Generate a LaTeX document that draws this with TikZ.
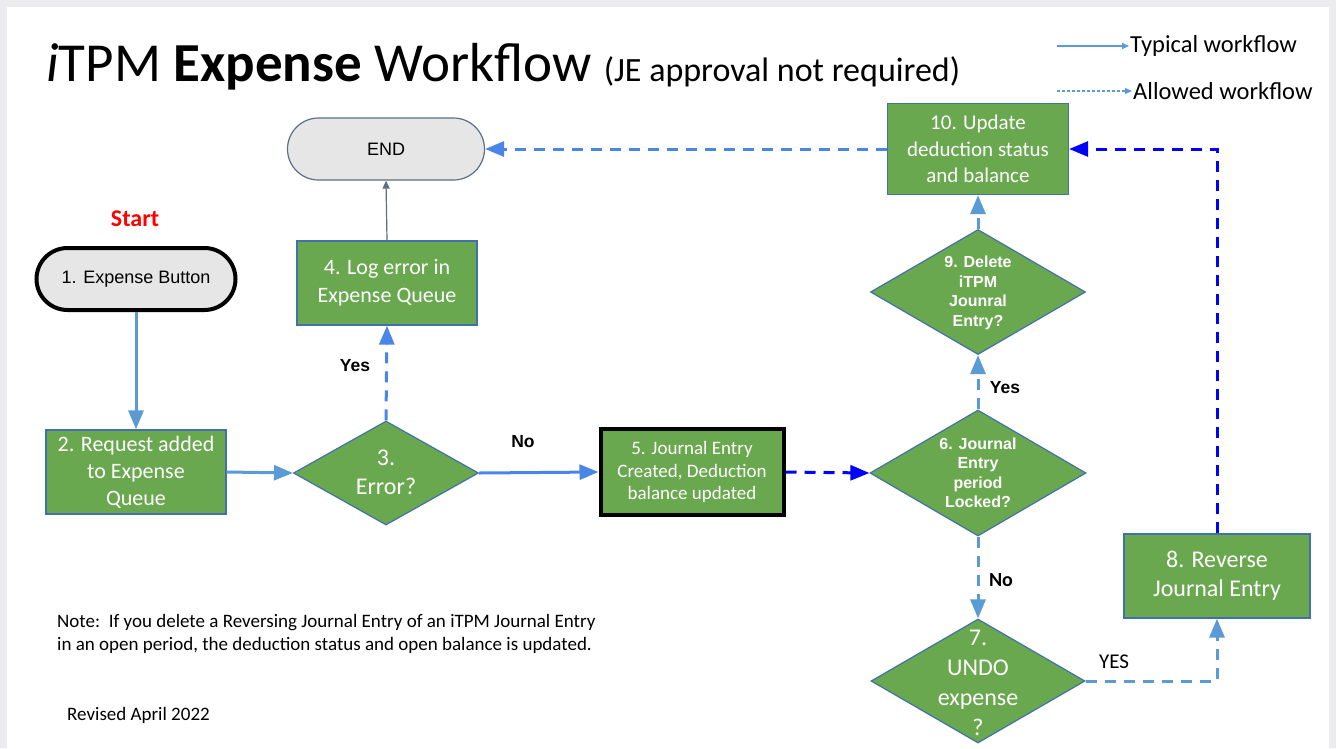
\documentclass[tikz,border=0pt]{standalone}
\usepackage{fontspec}
\setmainfont{Carlito}
\newfontfamily\arialfont{Liberation Sans}
\usetikzlibrary{positioning,arrows.meta,shapes.geometric}
\definecolor{verde}{RGB}{106,168,79}
\definecolor{bordeazul}{RGB}{65,113,170}
\definecolor{celeste}{RGB}{91,155,213}
\definecolor{azulmedio}{RGB}{74,134,232}
\definecolor{azulpuro}{RGB}{0,0,255}
\definecolor{grisflecha}{RGB}{95,110,130}
\definecolor{grisrelleno}{RGB}{230,230,230}
\definecolor{marco}{RGB}{236,236,238}
\newcommand{\tam}[2]{\fontsize{#1}{#2}\selectfont}
\tikzset{
  caja/.style={draw=bordeazul, fill=verde, text=white, align=center, line width=1.3pt, inner sep=0pt},
  rombo/.style={diamond, draw=bordeazul, fill=verde, line width=1.2pt, inner sep=0pt},
  rombotxt/.style={text=white, align=center, inner sep=0pt},
  pildora/.style={fill=grisrelleno, rounded corners=31pt, minimum height=62pt, font=\arialfont\tam{18}{22}},
  flecha/.style={-{Triangle[length=19pt,width=15pt]}},
  discontinua/.style={dash pattern=on 11pt off 8pt},
  etiqueta/.style={font=\arialfont\bfseries\tam{17.5}{20}}
}

\begin{document}
\begin{tikzpicture}[x=1pt, y=-1pt]
  \useasboundingbox (0,0) rectangle (1336,748);
  \fill[marco] (0,0) rectangle (1336,748);
  \fill[white] (7,7) rectangle (1329,748);
  % titulo y leyenda
  \node[anchor=base west, inner sep=0pt, font=\tam{55}{62}] (titulo) at (46,81)
    {\textit{i}TPM \textbf{Expense} Workflow \tam{34}{40}(JE approval not required)};
  \coordinate (tipico0) at (1057,46);
  \coordinate (permitido0) at (1057,91);
  \node[anchor=west, inner sep=1pt, font=\tam{24.5}{28}] (tipico) at (1129,46) {Typical workflow};
  \node[anchor=west, inner sep=1pt, font=\tam{24.5}{28}] (permitido) at (1132,91) {Allowed workflow};
  \draw[celeste, line width=1.5pt, -{Triangle[length=7pt,width=6pt]}] (tipico0) -- (tipico.west);
  \draw[celeste, line width=1.2pt, dash pattern=on 3pt off 2pt, -{Triangle[length=7pt,width=6pt]}] (permitido0) -- (permitido.west);
  % nodos
  \node[font=\bfseries\tam{24}{28}, text=red] (inicio) at (135,219) {Start};
  \node[pildora, draw=black, line width=4pt, minimum width=199pt] (boton) at (136,279) {1. Expense Button};
  \node[pildora, draw=grisflecha, line width=1.2pt, minimum width=197pt] (fin) at (386,149) {END};
  \node[caja, minimum width=180pt, minimum height=84pt, font=\tam{22}{27}] (cola) at (136,472) {2. Request added\\to Expense\\Queue};
  \node[rombo, minimum width=185pt, minimum height=104pt] (error) at (386,473) {};
  \node[rombotxt, font=\tam{24}{29}] (errortxt) at (386,472) {3.\\Error?};
  \node[caja, minimum width=180pt, minimum height=84pt, font=\tam{22}{28}] (registro) at (387,283) {4. Log error in\\Expense Queue};
  \node[caja, draw=black, line width=4pt, minimum width=183pt, minimum height=86pt, font=\tam{19}{22.5}] (asiento) at (692,472) {5. Journal Entry\\Created, Deduction\\balance updated};
  \node[rombo, minimum width=216pt, minimum height=126pt] (bloqueo) at (978,473) {};
  \node[rombotxt, font=\arialfont\bfseries\tam{16}{19.5}] (bloqueotxt) at (978,473) {6. Journal\\Entry\\period\\Locked?};
  \node[rombo, minimum width=215pt, minimum height=125pt] (borrar) at (978,292) {};
  \node[rombotxt, font=\arialfont\bfseries\tam{16}{19.5}] (borrartxt) at (978,293) {9. Delete\\iTPM\\Jounral\\Entry?};
  \node[caja, minimum width=181pt, minimum height=91pt, font=\tam{21}{26.5}] (actualizar) at (978,149) {10. Update\\deduction status\\and balance};
  \node[rombo, minimum width=214pt, minimum height=124pt] (deshacer) at (978,681) {};
  \node[rombotxt, font=\tam{24}{30}] (deshacertxt) at (978,683) {7.\\UNDO\\expense\\?};
  \node[caja, minimum width=186pt, minimum height=84pt, font=\tam{24}{29}] (revertir) at (1217,576) {8. Reverse\\Journal Entry};
  % etiquetas
  \node[etiqueta] (si1) at (355,366) {Yes};
  \node[etiqueta] (no1) at (523,442) {No};
  \node[etiqueta] (si2) at (1005,388) {Yes};
  \node[font=\bfseries\tam{20}{24}] (no2) at (1001,580) {No};
  \node[font=\tam{21}{24}] (si3) at (1114,662) {YES};
  % notas
  \node[anchor=north west, align=left, inner sep=0pt, font=\tam{19}{23}] (nota) at (57,614)
    {Note:\ \ If you delete a Reversing Journal Entry of an iTPM Journal Entry\\in an open period, the deduction status and open balance is updated.};
  \node[anchor=west, inner sep=0pt, font=\tam{19}{22}] (revision) at (67,715) {Revised April 2022};
  % conectores
  \draw[flecha, celeste, line width=3pt] (boton.south) -- (cola.north);
  \draw[flecha, celeste, line width=3pt] (cola.east) -- (error.west);
  \draw[flecha, azulmedio, discontinua, line width=3pt] (error.north) -- (registro.south);
  \draw[grisflecha, line width=1.2pt, -{Triangle[length=8pt,width=7pt]}] (registro.north) -- (fin.south);
  \draw[flecha, azulmedio, line width=3pt] (error.east) -- (asiento.west);
  \draw[flecha, azulpuro, discontinua, line width=3pt] (asiento.east) -- (bloqueo.west);
  \draw[flecha, celeste, discontinua, line width=3pt] (bloqueo.north) -- (borrar.south);
  \draw[flecha, celeste, discontinua, line width=3pt] (borrar.north) -- (actualizar.south);
  \draw[flecha, azulmedio, discontinua, line width=3pt] (actualizar.west) -- (fin.east);
  \draw[flecha, celeste, discontinua, line width=3pt] (bloqueo.south) -- (deshacer.north);
  \draw[flecha, celeste, discontinua, line width=3pt] (deshacer.east) -| (revertir.south);
  \draw[flecha, azulpuro, discontinua, line width=3pt] (revertir.north) |- (actualizar.east);
\end{tikzpicture}
\end{document}
